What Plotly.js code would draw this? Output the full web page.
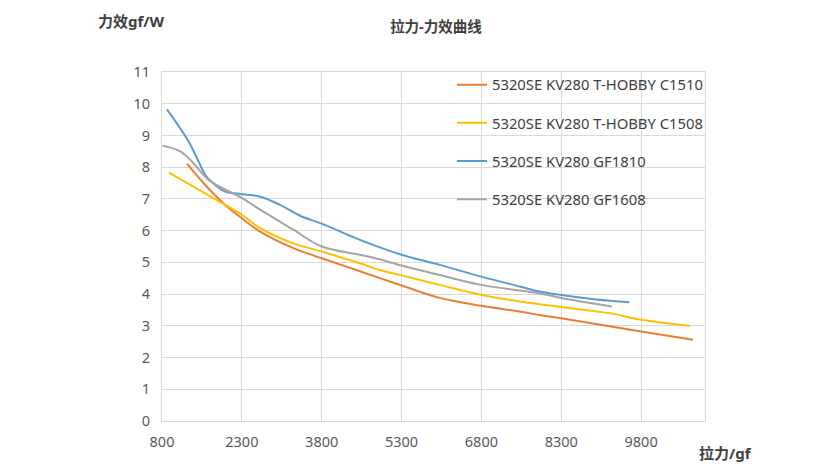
<!DOCTYPE html>
<html>
<head>
<meta charset="utf-8">
<script src="https://cdn.plot.ly/plotly-3.0.1.min.js"></script>
<style>html,body{margin:0;padding:0;background:#fff;}#chart{width:840px;height:473px;}</style>
</head>
<body>
<div id="chart"></div>
<script>
const seriesNames = [
  "5320SE KV280 T-HOBBY C1510",
  "5320SE KV280 T-HOBBY C1508",
  "5320SE KV280 GF1810",
  "5320SE KV280 GF1608"
];
const c1510X = [1269, 1612, 1987, 2300, 2643, 3268, 3800, 4518, 5300, 6018, 6800, 7519, 7893, 8300, 9800, 10775];
const c1510Y = [8.11, 7.44, 6.81, 6.39, 5.97, 5.45, 5.13, 4.72, 4.27, 3.88, 3.63, 3.45, 3.34, 3.24, 2.82, 2.56];
const c1508X = [931, 1987, 2300, 2643, 3268, 3800, 4518, 4893, 5300, 6018, 6800, 7519, 7893, 8300, 9206, 9800, 10719];
const c1508Y = [7.83, 6.81, 6.50, 6.08, 5.60, 5.34, 4.97, 4.76, 4.59, 4.29, 3.97, 3.77, 3.68, 3.59, 3.40, 3.19, 3.00];
const gf1810X = [894, 1299, 1487, 1612, 1737, 1987, 2300, 2647, 3018, 3393, 3800, 4518, 5300, 6018, 6800, 7519, 7893, 8300, 8956, 9581];
const gf1810Y = [9.82, 8.81, 8.18, 7.76, 7.53, 7.23, 7.15, 7.07, 6.81, 6.47, 6.22, 5.71, 5.24, 4.92, 4.55, 4.24, 4.08, 3.97, 3.83, 3.74];
const gf1608X = [811, 1143, 1362, 1674, 2300, 2643, 3268, 3800, 4518, 4831, 5300, 6018, 6800, 7893, 8300, 9249];
const gf1608Y = [8.68, 8.50, 8.18, 7.60, 7.03, 6.66, 6.03, 5.50, 5.24, 5.12, 4.90, 4.60, 4.29, 4.02, 3.88, 3.61];
const xTicks = [800, 2300, 3800, 5300, 6800, 8300, 9800];
const yTicks = [0, 1, 2, 3, 4, 5, 6, 7, 8, 9, 10, 11];
const colors = ["#ED7D31", "#FFC000", "#5B9BD5", "#A5A5A5"];

const xs = [c1510X, c1508X, gf1810X, gf1608X];
const ys = [c1510Y, c1508Y, gf1810Y, gf1608Y];
const FONT = "Noto Sans, Noto Sans CJK SC, sans-serif";

const traces = seriesNames.map((n, i) => ({
  type: "scatter", mode: "lines", name: n, x: xs[i], y: ys[i],
  legendgroup: "g" + i,
  line: {color: colors[i], width: 2, shape: "spline", smoothing: 1},
  hoverinfo: "x+y"
}));

const layout = {
  width: 840, height: 473,
  margin: {l: 162, r: 135, t: 72, b: 52},
  paper_bgcolor: "#fff", plot_bgcolor: "#fff",
  font: {family: FONT, color: "#595959", size: 14},
  showlegend: true,
  legend: {
    x: 0.534, xanchor: "left", y: 1.010, yanchor: "top",
    bgcolor: "rgba(0,0,0,0)", borderwidth: 0,
    font: {family: FONT, size: 14.8, color: "#404040"},
    tracegroupgap: 16, traceorder: "grouped"
  },
  xaxis: {
    range: [800, 11000], tickvals: xTicks, ticktext: xTicks.map(String),
    showgrid: true, gridcolor: "#d9d9d9", gridwidth: 1,
    showline: true, linecolor: "#d9d9d9", linewidth: 1, mirror: true,
    zeroline: false, ticks: "", ticklabelstandoff: 8,
    tickfont: {family: FONT, size: 14.5, color: "#595959"}
  },
  yaxis: {
    range: [0, 11], tickvals: yTicks,
    showgrid: true, gridcolor: "#d9d9d9", gridwidth: 1,
    showline: true, linecolor: "#d9d9d9", linewidth: 1, mirror: true,
    zeroline: false, ticks: "", ticklabelstandoff: 8,
    tickfont: {family: FONT, size: 14.5, color: "#595959"}
  },
  title: {
    text: "<b>拉力-力效曲线</b>", xref: "container", yref: "container",
    x: 0.519, xanchor: "center", y: 1 - 27/473, yanchor: "middle",
    font: {family: FONT, size: 14.5, color: "#404040"}
  },
  annotations: [
    {text: "<b>力效gf/W</b>", xref: "paper", yref: "paper",
     x: (131 - 162) / 543, y: (421 - 21) / 349, xanchor: "center", yanchor: "middle",
     showarrow: false, font: {family: FONT, size: 15, color: "#404040"}},
    {text: "<b>拉力/gf</b>", xref: "paper", yref: "paper",
     x: (725 - 162) / 543, y: (421 - 453) / 349, xanchor: "center", yanchor: "middle",
     showarrow: false, font: {family: FONT, size: 15, color: "#404040"}}
  ]
};

Plotly.newPlot("chart", traces, layout, {displayModeBar: false, staticPlot: true});
</script>
</body>
</html>
